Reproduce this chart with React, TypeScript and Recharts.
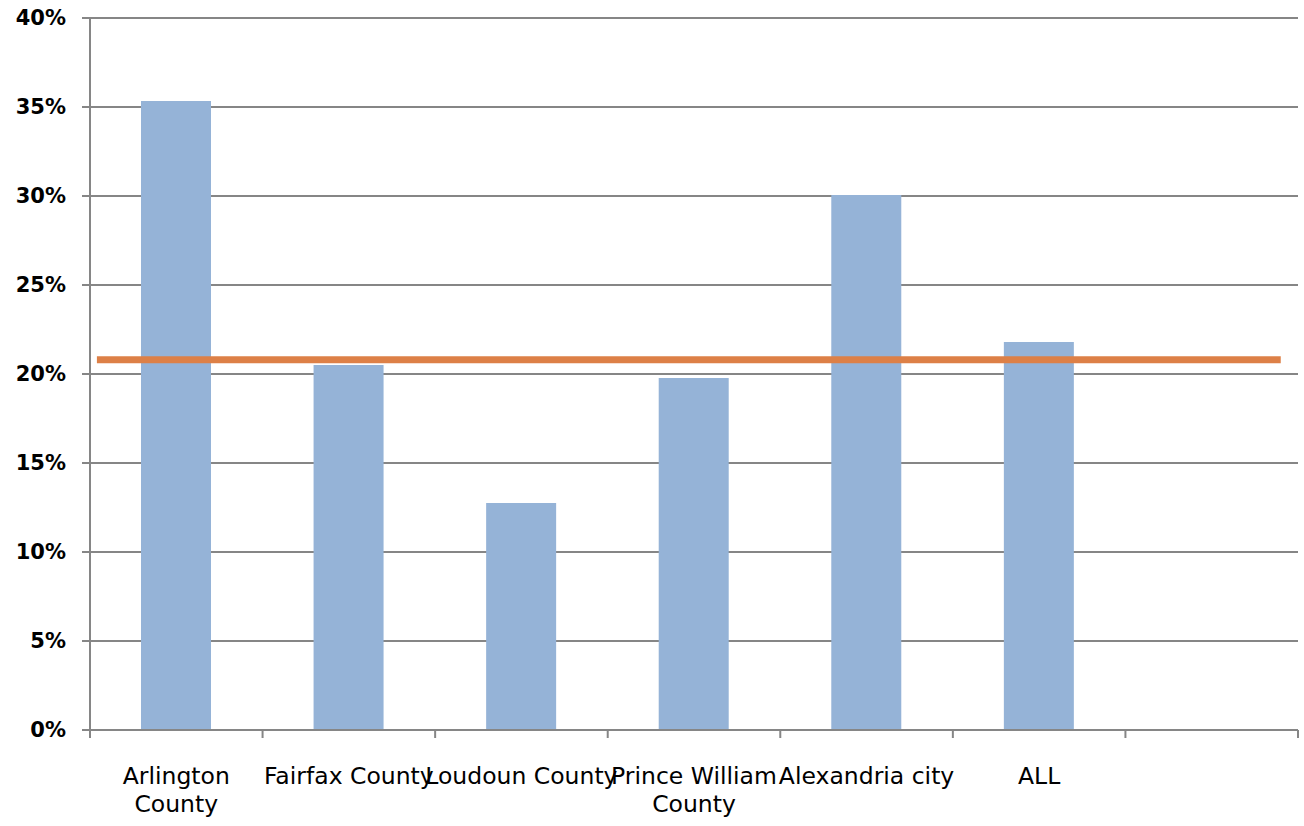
import React from 'react';
import { ComposedChart, Bar, Line, XAxis, YAxis, CartesianGrid } from 'recharts';

const categories = ['Arlington\nCounty', 'Fairfax County', 'Loudoun County', 'Prince William\nCounty', 'Alexandria city', 'ALL', ''];
const shares: (number | null)[] = [35.34, 20.51, 12.75, 19.78, 30.06, 21.8, null];
const yTicks = [0, 5, 10, 15, 20, 25, 30, 35, 40];
const averageValue = 20.8;
const averageSpan = [0.04, 6.9];
const slotTicks = [0, 0.5, 1, 1.5, 2, 2.5, 3, 3.5, 4, 4.5, 5, 5.5, 6, 6.5, 7];

const data = categories.map((name, i) => ({ name, share: shares[i] }));
const lineData = averageSpan.map((x) => ({ x, avg: averageValue }));

const GRAY = '#868686';
const FONT = "'DejaVu Sans', Lato, sans-serif";

const BottomTick = (props: any) => {
  const { x, y, payload } = props;
  const v = payload.value as number;
  if (Number.isInteger(v)) {
    return <line x1={x} x2={x} y1={y} y2={y + 8} stroke={GRAY} strokeWidth={2} />;
  }
  const idx = Math.floor(v);
  const lines = (categories[idx] || '').split('\n');
  return (
    <text x={x} y={y + 54} textAnchor="middle" fill="#000" fontSize={23.5} fontFamily={FONT}>
      {lines.map((l, i) => (
        <tspan key={i} x={x} dy={i === 0 ? 0 : 28}>{l}</tspan>
      ))}
    </text>
  );
};

export default function App() {
  return (
    <div style={{ position: 'fixed', left: 0, top: 0, width: 1304, height: 826, background: '#fff' }}>
      <ComposedChart width={1304} height={826} data={data} margin={{ top: 18, right: 6, left: 0, bottom: 0 }}>
        <CartesianGrid vertical={false} stroke={GRAY} strokeWidth={2} />
        <XAxis xAxisId="cat" dataKey="name" hide height={0} />
        <XAxis
          xAxisId="num"
          dataKey="x"
          type="number"
          domain={[0, 7]}
          ticks={slotTicks}
          allowDataOverflow
          height={96}
          tickSize={0}
          tickMargin={0}
          tickLine={false}
          axisLine={{ stroke: GRAY, strokeWidth: 2 }}
          tick={<BottomTick />}
          interval={0}
        />
        <YAxis
          domain={[0, 40]}
          ticks={yTicks}
          width={90}
          tickSize={8}
          tickMargin={16}
          interval={0}
          tickFormatter={(v: number) => `${v}%`}
          axisLine={{ stroke: GRAY, strokeWidth: 2 }}
          tickLine={{ stroke: GRAY, strokeWidth: 2 }}
          tick={{ fill: '#000', fontSize: 21, fontWeight: 700, fontFamily: FONT }}
        />
        <Bar xAxisId="cat" dataKey="share" fill="#95B3D7" barSize={70} isAnimationActive={false} />
        <Line
          xAxisId="num"
          data={lineData}
          dataKey="avg"
          stroke="#DD8047"
          strokeWidth={7}
          dot={false}
          activeDot={false}
          isAnimationActive={false}
        />
      </ComposedChart>
    </div>
  );
}
